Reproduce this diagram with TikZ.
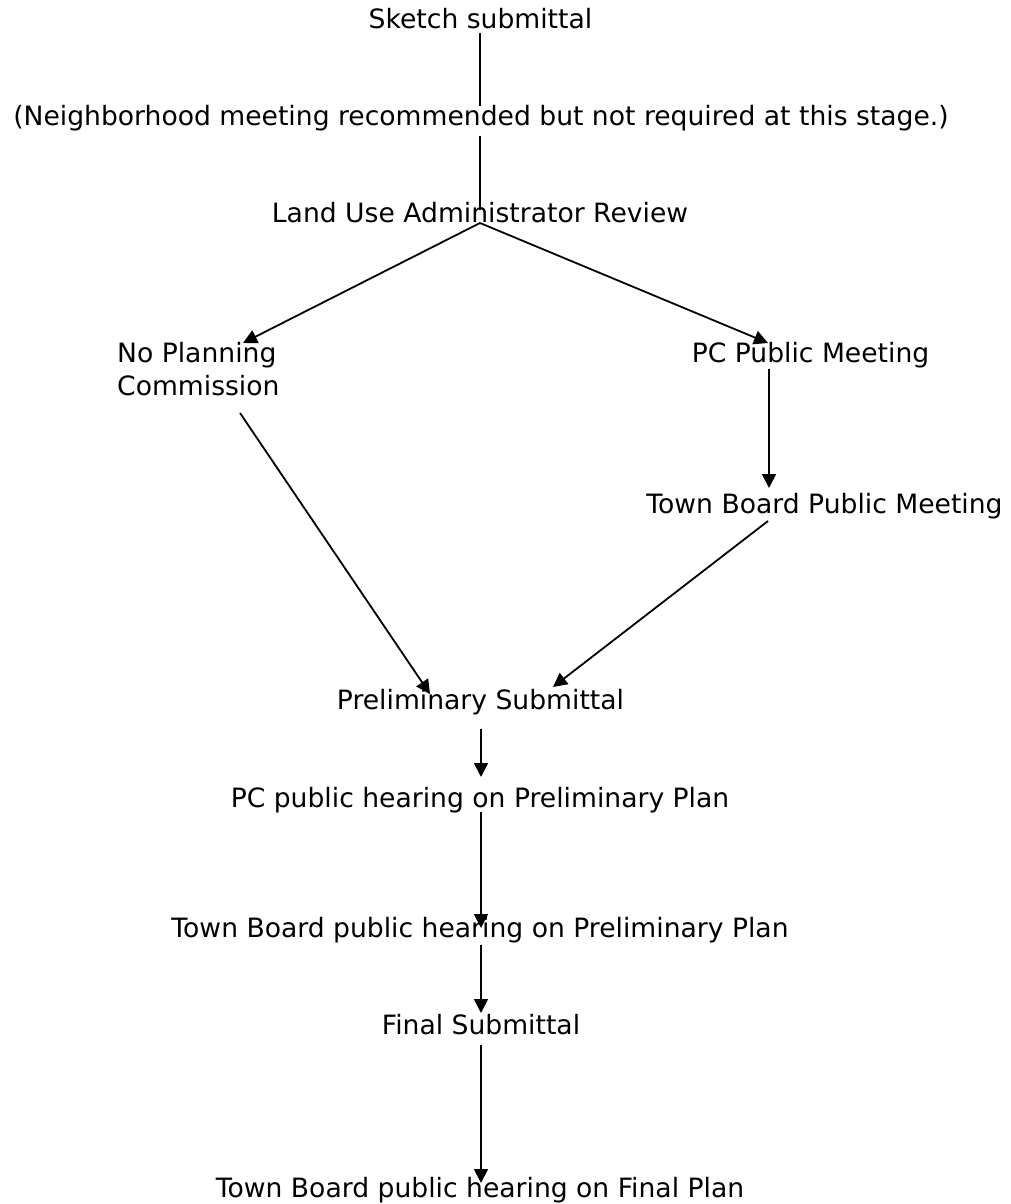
\documentclass[tikz,border=0pt]{standalone}
\usepackage{fontspec}
\setmainfont{DejaVu Sans}
\usetikzlibrary{arrows.meta}
\begin{document}
\begin{tikzpicture}[x=1pt,y=1pt,
  lbl/.style={inner sep=0pt, anchor=base, font=\fontsize{26.6}{33}\selectfont},
  conn/.style={line width=1.8pt},
  arr/.style={conn, -{Triangle[length=14pt,width=14pt]}}]
\useasboundingbox (0,0) rectangle (1011,-1204);
\node[lbl] (sketch) at (480.5,-29) {Sketch submittal};
\node[lbl] (neigh) at (481,-126) {(Neighborhood meeting recommended but not required at this stage.)};
\node[lbl] (land) at (480,-222) {Land Use Administrator Review};
\node[lbl, anchor=north west, align=left] (noplan) at (117,-342) {No Planning\\Commission};
\node[lbl] (pcpm) at (810.5,-362) {PC Public Meeting};
\node[lbl] (tbpm) at (824.5,-513) {Town Board Public Meeting};
\node[lbl] (prelim) at (480.5,-709) {Preliminary Submittal};
\node[lbl] (pcph) at (480,-807) {PC public hearing on Preliminary Plan};
\node[lbl] (tbph) at (480,-937) {Town Board public hearing on Preliminary Plan};
\node[lbl] (final) at (481,-1034) {Final Submittal};
\node[lbl] (tbfp) at (480,-1197) {Town Board public hearing on Final Plan};
% connector ends
\coordinate (sketchOut) at (480,-33);
\coordinate (neighIn) at (480,-106);
\coordinate (neighOut) at (480,-136);
\coordinate (landIn) at (480,-210);
\coordinate (fork) at (480,-223);
\coordinate (noplanIn) at (243,-343);
\coordinate (pcpmIn) at (768,-343);
\coordinate (noplanOut) at (240,-413);
\coordinate (pcpmOut) at (769,-369);
\coordinate (tbpmIn) at (769,-488);
\coordinate (tbpmOut) at (768,-521);
\coordinate (prelimInL) at (430,-694);
\coordinate (prelimInR) at (553,-687);
\coordinate (prelimOut) at (481,-729);
\coordinate (pcphIn) at (481,-777);
\coordinate (pcphOut) at (481,-812);
\coordinate (tbphIn) at (481,-928);
\coordinate (tbphOut) at (481,-945);
\coordinate (finalIn) at (481,-1013);
\coordinate (finalOut) at (481,-1045);
\coordinate (tbfpIn) at (481,-1183);
\draw[conn] (sketchOut) -- (neighIn);
\draw[conn] (neighOut) -- (landIn);
\draw[arr] (fork) -- (noplanIn);
\draw[arr] (fork) -- (pcpmIn);
\draw[arr] (noplanOut) -- (prelimInL);
\draw[arr] (pcpmOut) -- (tbpmIn);
\draw[arr] (tbpmOut) -- (prelimInR);
\draw[arr] (prelimOut) -- (pcphIn);
\draw[arr] (pcphOut) -- (tbphIn);
\draw[arr] (tbphOut) -- (finalIn);
\draw[arr] (finalOut) -- (tbfpIn);
\end{tikzpicture}
\end{document}
